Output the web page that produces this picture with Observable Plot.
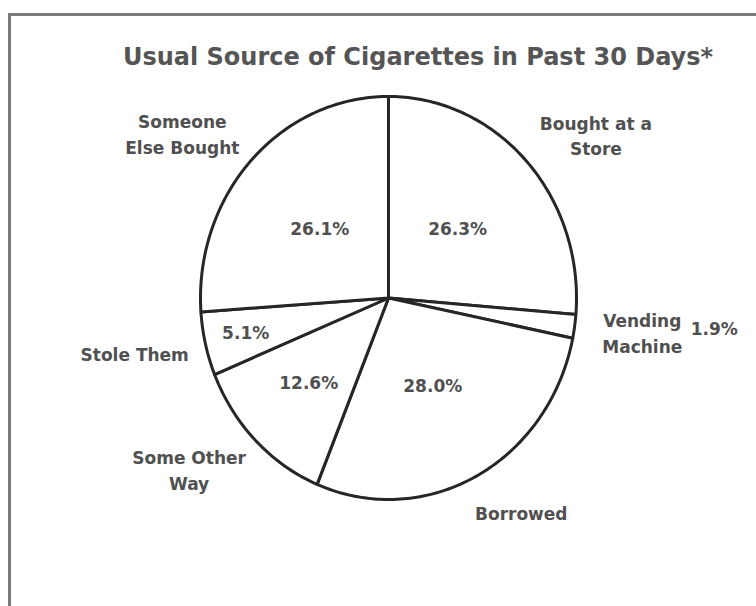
<!DOCTYPE html>
<html>
<head>
<meta charset="utf-8">
<script src="https://cdn.jsdelivr.net/npm/d3@7"></script>
<script src="https://cdn.jsdelivr.net/npm/@observablehq/plot@0.6"></script>
<style>
  html, body { margin: 0; padding: 0; background: #fff; }
  #page { position: relative; width: 756px; height: 606px; overflow: hidden; font-family: "DejaVu Sans", "Liberation Sans", Arial, sans-serif; }
  #frame { position: absolute; left: 8px; top: 13px; right: -4px; bottom: -4px; border-left: 3px solid #7a7a7a; border-top: 3px solid #7a7a7a; }
  #title { position: absolute; top: 43px; left: 80px; width: 676px; text-align: center; font-size: 24px; font-weight: bold; color: #555; letter-spacing: 0px; white-space: nowrap; }
  #chart { position: absolute; left: 0; top: 0; }
</style>
</head>
<body>
<div id="page">
  <div id="frame"></div>
  <div id="title">Usual Source of Cigarettes in Past 30 Days*</div>
  <div id="chart"></div>
</div>
<script>
// Data (clockwise from 12 o'clock)
const categories = ["Bought at a\nStore", "Vending\nMachine", "Borrowed", "Some Other\nWay", "Stole Them", "Someone\nElse Bought"];
const percents = [26.3, 1.9, 28.0, 12.6, 5.1, 26.1];

// Build slices from the data
const total = d3.sum(percents);
let cum = 0;
const slices = categories.map((c, i) => {
  const a0 = cum / total * 2 * Math.PI;
  cum += percents[i];
  const a1 = cum / total * 2 * Math.PI;
  return {category: c, pct: percents[i], a0, a1, mid: (a0 + a1) / 2};
});

// polygon points in unit space (angle clockwise from top)
const pts = [];
slices.forEach((s, i) => {
  pts.push({slice: i, x: 0, y: 0});
  const n = Math.max(2, Math.ceil((s.a1 - s.a0) / (Math.PI / 180)));
  for (let k = 0; k <= n; k++) {
    const t = s.a0 + (s.a1 - s.a0) * k / n;
    pts.push({slice: i, x: Math.sin(t), y: Math.cos(t)});
  }
  pts.push({slice: i, x: 0, y: 0});
});

const fmt = v => v.toFixed(1) + "%";
const big = slices.filter(s => s.pct >= 3);
const small = slices.filter(s => s.pct < 3);
const clamp = (v, m) => Math.max(-m, Math.min(m, v));

const outer = slices.map(s => ({text: s.category, x: clamp(Math.sin(s.mid) * 1.5, 1.35), y: Math.cos(s.mid) * 1.2}));
const inner = big.map(s => {
  const r = s.pct < 8 ? 0.78 : s.pct < 20 ? 0.6 : 0.5;
  return {text: fmt(s.pct), x: Math.sin(s.mid) * r, y: Math.cos(s.mid) * r};
});
const outside = small.map(s => ({text: fmt(s.pct), x: Math.sin(s.mid) * 1.75, y: Math.cos(s.mid) * 1.1}));

const font = {fontSize: 17, fontWeight: "bold", fill: "#505050"};
const chart = Plot.plot({
  width: 756,
  height: 606,
  style: {background: "transparent", fontFamily: "DejaVu Sans, Liberation Sans, Arial, sans-serif"},
  x: {domain: [-1, 1], range: [200, 576], axis: null},
  y: {domain: [-1, 1], range: [499, 96], axis: null},
  marks: [
    Plot.line(pts, {x: "x", y: "y", z: "slice", fill: "white", stroke: "#262626", strokeWidth: 3, strokeLinejoin: "round"}),
    Plot.text(outer, {x: "x", y: "y", text: "text", lineHeight: 1.5, ...font}),
    Plot.text(inner, {x: "x", y: "y", text: "text", ...font}),
    Plot.text(outside, {x: "x", y: "y", text: "text", ...font})
  ]
});
document.getElementById("chart").appendChild(chart);
</script>
</body>
</html>
